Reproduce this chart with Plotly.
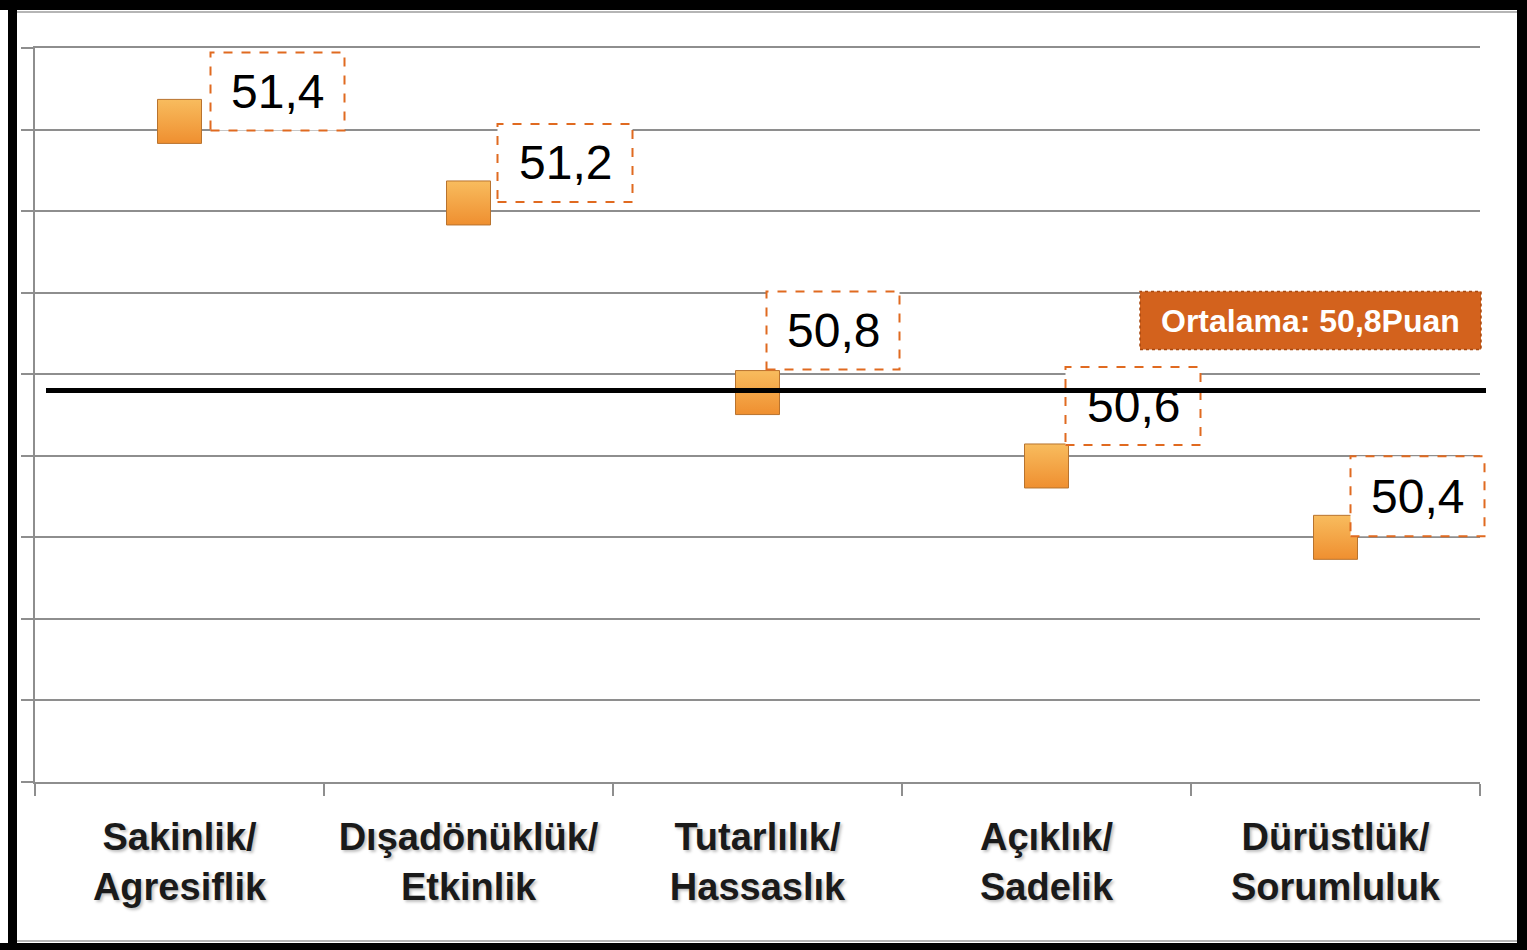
import plotly.graph_objects as go

# ---- data ----
categories = ["Sakinlik/<br>Agresiflik", "Dışadönüklük/<br>Etkinlik", "Tutarlılık/<br>Hassaslık",
              "Açıklık/<br>Sadelik", "Dürüstlük/<br>Sorumluluk"]
scores = [51.42, 51.22, 50.755, 50.575, 50.40]
score_labels = ["51,4", "51,2", "50,8", "50,6", "50,4"]
mean_value = 50.76
mean_label = "Ortalama: 50,8Puan"

# ---- label box offsets (pixels relative to marker centre: x0, x1, y0, y1) ----
box_offsets = [(31, 165, -9, 69), (29, 164, 1, 79), (9, 142, 23, 101), (19, 154, 21, 99), (15, 149, 1, 81)]

W, H = 1527, 950
L, R, T, B = 35, 47, 48, 168
PW, PH = W - L - R, H - T - B


def px(x):
    return (x - L) / PW


def py(y):
    return (H - B - y) / PH


n = len(categories)
xs = [i + 0.5 for i in range(n)]

fig = go.Figure()
fig.add_trace(go.Scatter(
    x=xs, y=scores, mode="markers",
    marker=dict(symbol="square", size=44, color="#F8BC5E",
                gradient=dict(type="vertical", color="#EF8F30"),
                line=dict(color="#B8732E", width=1)),
    hoverinfo="skip", showlegend=False,
))

shapes = []
annotations = []
for x, v, lab, (x0, x1, y0, y1) in zip(xs, scores, score_labels, box_offsets):
    shapes.append(dict(type="rect", xref="paper", yref="y", xsizemode="pixel", ysizemode="pixel",
                       xanchor=x / n, yanchor=v, x0=x0, x1=x1, y0=y0, y1=y1,
                       fillcolor="white", line=dict(color="#E06A20", width=2, dash="dash"),
                       layer="above"))
    annotations.append(dict(x=x, y=v, xref="x", yref="y", xshift=(x0 + x1) / 2, yshift=(y0 + y1) / 2,
                            xanchor="center", yanchor="middle",
                            text=lab, showarrow=False,
                            font=dict(family="Liberation Sans, Arial", size=48, color="black")))

# mean line
shapes.append(dict(type="line", xref="paper", yref="y", x0=px(46), x1=px(1486), y0=mean_value, y1=mean_value,
                   line=dict(color="black", width=5), layer="above"))
# mean box
shapes.append(dict(type="rect", xref="paper", yref="y", ysizemode="pixel", yanchor=mean_value,
                   x0=px(1140), x1=px(1481), y0=41, y1=99,
                   fillcolor="#D3621D", line=dict(color="#A8480F", width=1.5, dash="dot"), layer="above"))
annotations.append(dict(x=px(1310.5), y=mean_value, xref="paper", yref="y", yshift=70,
                        xanchor="center", yanchor="middle",
                        text="<b>" + mean_label + "</b>", showarrow=False,
                        font=dict(family="Liberation Sans, Arial", size=32, color="white")))

# thin grey inner lines of the frame
for yy in (12, 941):
    shapes.append(dict(type="line", xref="paper", yref="paper", x0=px(17), x1=px(1517), y0=py(yy), y1=py(yy),
                       line=dict(color="#B5B5B5", width=2), layer="above"))
# outer black frame
for (a, b, c, d) in [(8, 17, 0, 950), (0, 1527, 0, 10), (1517, 1527, 0, 950), (0, 1527, 943, 950)]:
    shapes.append(dict(type="rect", xref="paper", yref="paper", x0=px(a), x1=px(b), y0=py(d), y1=py(c),
                       fillcolor="black", line=dict(width=0), layer="above"))

grid = "#8E8E8E"
fig.update_layout(
    width=W, height=H,
    margin=dict(l=L, r=R, t=T, b=B, pad=0),
    paper_bgcolor="white", plot_bgcolor="white",
    shapes=shapes, annotations=annotations,
    xaxis=dict(range=[0, 5], tickmode="array", tickvals=xs, ticktext=["<b>" + c + "</b>" for c in categories],
               ticks="", showgrid=False, zeroline=False, showline=True, mirror=True, linecolor=grid,
               linewidth=1.5, ticklabelstandoff=21,
               tickfont=dict(family="Liberation Sans, Arial", size=38, color="#1a1a1a",
                             shadow="2px 2px 3px rgba(0,0,0,0.25)"),
               minor=dict(tickmode="array", tickvals=[0, 1, 2, 3, 4, 5], ticks="outside", ticklen=12,
                          tickcolor=grid, tickwidth=1.5, showgrid=False),
               fixedrange=True),
    yaxis=dict(range=[49.8, 51.6], tick0=49.8, dtick=0.2, showticklabels=False, ticks="outside", ticklen=12,
               tickcolor=grid, tickwidth=1.5, showgrid=True, gridcolor=grid, gridwidth=1.5, zeroline=False,
               showline=True, linecolor=grid, linewidth=1.5, fixedrange=True),
)

fig.write_html("out.html", config={"displayModeBar": False},
               post_script="document.body.style.margin='0px';")
